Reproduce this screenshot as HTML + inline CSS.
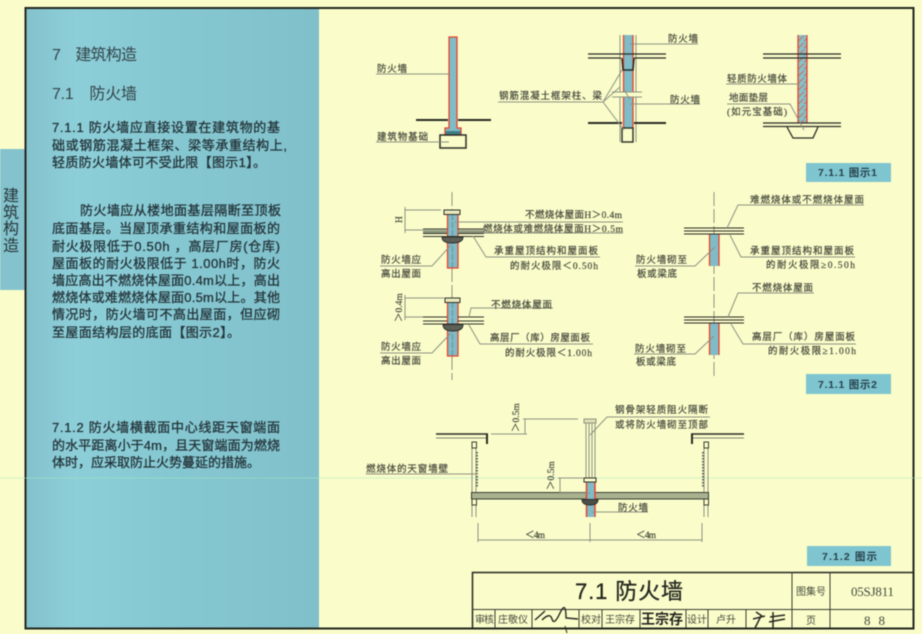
<!DOCTYPE html>
<html><head><meta charset="utf-8"><style>
html,body{margin:0;padding:0;background:#fafdca;width:922px;height:634px;overflow:hidden}
svg{display:block;font-family:"Liberation Sans","Noto Sans CJK SC",sans-serif;filter:blur(.45px)}
.b{font-size:13px;fill:#24343a;stroke:#24343a;stroke-width:.3}
.h{font-size:16px;fill:#33444a}
.l{font-size:9.5px;fill:#47493c;stroke:#47493c;stroke-width:.2;font-family:"Liberation Serif","Noto Sans CJK SC",sans-serif}
.c{font-size:10.5px;fill:#27414a;font-weight:700}
.t{font-size:10px;fill:#454a3c;font-family:"Liberation Serif","Noto Sans CJK SC",sans-serif}
.g{stroke:#8e9180;stroke-width:1;fill:none}
.k{stroke:#2b2b24;fill:none}
.r{fill:#7fbcc7;stroke:#e8432c;stroke-width:1.3}
</style></head><body>
<svg width="922" height="634" viewBox="0 0 922 634" xmlns="http://www.w3.org/2000/svg">
<defs>
<linearGradient id="bl" x1="0" x2="1" y1="0" y2="0">
<stop offset="0" stop-color="#84c2cc"/><stop offset=".17" stop-color="#8dcfd9"/><stop offset=".5" stop-color="#86c8d2"/><stop offset="1" stop-color="#80c0ca"/>
</linearGradient>
<pattern id="ht" width="6" height="7" patternUnits="userSpaceOnUse"><rect width="6" height="7" fill="#86c0c8"/><path d="M-1 7L7 0" stroke="#d9583a" stroke-width=".8"/></pattern>
</defs>
<rect width="922" height="634" fill="#fafdca"/>
<rect x="0" y="149" width="25" height="141" fill="#84c3cd"/>
<rect x="26" y="9" width="293" height="619" fill="url(#bl)"/>
<path d="M25.5 8H913.5V628.5H25.5Z" fill="none" stroke="#23261f" stroke-width="2"/>

<!-- side tab -->
<g font-size="16" fill="#26363a" text-anchor="middle">
<text x="11" y="201">建</text><text x="11" y="218">筑</text><text x="11" y="234">构</text><text x="11" y="251">造</text>
</g>

<!-- left text -->
<text x="52" y="60" class="h" textLength="85">7　建筑构造</text>
<text x="52" y="99" class="h" textLength="85">7.1　防火墙</text>
<text x="52" y="132" class="b" textLength="228">7.1.1 防火墙应直接设置在建筑物的基</text>
<text x="52" y="150" class="b" textLength="235">础或钢筋混凝土框架、梁等承重结构上,</text>
<text x="52" y="167" class="b" textLength="214">轻质防火墙体可不受此限【图示1】。</text>
<text x="80" y="215" class="b" textLength="201">防火墙应从楼地面基层隔断至顶板</text>
<text x="52" y="233" class="b" textLength="228">底面基层。当屋顶承重结构和屋面板的</text>
<text x="52" y="251" class="b" textLength="228">耐火极限低于0.50h ，高层厂房(仓库)</text>
<text x="52" y="268" class="b" textLength="228">屋面板的耐火极限低于 1.00h时，防火</text>
<text x="52" y="285" class="b" textLength="228">墙应高出不燃烧体屋面0.4m以上，高出</text>
<text x="52" y="302" class="b" textLength="228">燃烧体或难燃烧体屋面0.5m以上。其他</text>
<text x="52" y="319" class="b" textLength="228">情况时，防火墙可不高出屋面，但应砌</text>
<text x="52" y="337" class="b" textLength="188">至屋面结构层的底面【图示2】。</text>
<text x="52" y="432" class="b" textLength="228">7.1.2 防火墙横截面中心线距天窗端面</text>
<text x="52" y="450" class="b" textLength="228">的水平距离小于4m，且天窗端面为燃烧</text>
<text x="52" y="467" class="b" textLength="208">体时，应采取防止火势蔓延的措施。</text>

<!-- diagram 1 -->
<path class="r" d="M449 37H457V128H461V135H445V128H449Z"/>
<rect x="445.6" y="131" width="15" height="4" fill="#3f7f84"/>
<path class="k" stroke-width="2" d="M416 120H448M458 120H491"/>
<rect class="k" stroke-width="1.5" x="440" y="135" width="26" height="13" fill="#fafdca"/>
<path class="g" d="M376 74H449M376 142H449"/>
<text class="l" x="377" y="72" textLength="30">防火墙</text>
<text class="l" x="377" y="140" textLength="51">建筑物基础</text>

<!-- diagram 2 -->
<path class="g" d="M620 35V142M636 35V142" stroke="#a5a890"/>
<rect x="624" y="35" width="9" height="93" fill="#7fbcc7"/>
<path d="M623.5 35V128M633 35V128" stroke="#e8432c" stroke-width="1.3"/>
<rect x="614" y="92" width="28" height="5" fill="#fafdca"/>
<path class="g" d="M612 92H642M612 97H642M624 90L630 99"/>
<path class="k" stroke-width="1.2" d="M588 54H666M588 58H621M634 58H666"/>
<path class="k" stroke-width="1.6" fill="#fafdca" d="M622 58L623 70H633L634 58"/>
<path class="k" stroke-width="2" d="M588 123H622M634 123H666"/>
<rect class="k" stroke-width="1.4" x="622" y="128" width="11" height="14" fill="#fafdca"/>
<path class="g" d="M498 102H603L622 70M603 102L620 87M603 102L624 130"/>
<path class="g" d="M630 44H698M630 104H700"/>
<text class="l" x="499" y="99" textLength="103">钢筋混凝土框架柱、梁</text>
<text class="l" x="668" y="42" textLength="30">防火墙</text>
<text class="l" x="670" y="103" textLength="30">防火墙</text>

<!-- diagram 3 -->
<rect x="798" y="35" width="9" height="88" fill="url(#ht)"/>
<path d="M798 35V123M807 35V123" stroke="#e8432c" stroke-width="1.3"/>
<path class="k" stroke-width="1.2" d="M763 54H841M763 58H841M763 123H841M763 126.500H841"/>
<path class="k" stroke-width="1.3" d="M787 127L793 138H813L818 127"/>
<path class="g" d="M726 84H800M727 104H790L804 130"/>
<text class="l" x="727" y="82" textLength="60">轻质防火墙体</text>
<text class="l" x="729" y="101" textLength="39">地面垫层</text>
<text class="l" x="727" y="115" textLength="60">(如元宝基础)</text>
<rect x="806" y="163" width="85" height="19" fill="#7ec5d0"/>
<text class="c" x="818" y="176" textLength="59">7.1.1 图示1</text>

<!-- diagram 4 -->
<path class="g" d="M452 192V210M452 268V298M452 356V380" stroke-dasharray="14 3"/>
<path class="r" d="M447.500 214H458V268H447.500Z"/>
<path d="M452.500 214V268" stroke="#5f7f80" stroke-width=".7" stroke-dasharray="6 2"/>
<rect x="444" y="210" width="16" height="4.500" fill="#e8e9bb" stroke="#2f302a"/>
<path d="M423 229H447M458 229H484" stroke="#2f302a"/><rect x="423" y="230" width="24" height="3" fill="#8f9a80"/><rect x="458" y="230" width="26" height="3" fill="#8f9a80"/>
<path d="M423 233.500H447M458 233.500H484M423 236.500H484" stroke="#2f302a"/>
<path d="M442 237H463Q463 243 452 243Q442 243 442 237Z" fill="#5c6056" stroke="#2f302a"/>
<path class="g" d="M405 210H441M405 230H423M405 207V233"/>
<text class="l" transform="translate(402,223) rotate(-90)">H</text>
<path class="g" d="M455 222H623M483 233H623M600 257H486L473 236M432 266H380M432 266L451 245"/>
<text class="l" x="525" y="218" textLength="97">不燃烧体屋面H＞0.4m</text>
<text class="l" x="483" y="232" textLength="140">燃烧体或难燃烧体屋面H＞0.5m</text>
<text class="l" x="494" y="254" textLength="104">承重屋顶结构和屋面板</text>
<text class="l" x="510" y="269" textLength="88">的耐火极限＜0.50h</text>
<text class="l" x="381" y="263" textLength="40">防火墙应</text>
<text class="l" x="381" y="277" textLength="40">高出屋面</text>

<path class="r" d="M447.500 302H458V356H447.500Z"/>
<path d="M452.500 302V356" stroke="#5f7f80" stroke-width=".7" stroke-dasharray="6 2"/>
<rect x="445" y="298" width="15" height="4.500" fill="#e8e9bb" stroke="#2f302a"/>
<path d="M423 317H447M458 317H484M423 321H447M458 321H484M423 324H484" stroke="#2f302a"/>
<path d="M443 324.500H463Q463 331 453 331Q443 331 443 324.500Z" fill="#5c6056" stroke="#2f302a"/>
<path class="g" d="M405 298H444M405 317H423M405 295V320"/>
<text class="l" transform="translate(402,322) rotate(-90)">＞0.4m</text>
<path class="g" d="M469 317L471 308H553M480 344H593M480 344L469 325M380 353H432L451 333"/>
<text class="l" x="491" y="308" textLength="61">不燃烧体屋面</text>
<text class="l" x="490" y="341" textLength="100">高层厂（库）房屋面板</text>
<text class="l" x="505" y="356" textLength="87">的耐火极限＜1.00h</text>
<text class="l" x="381" y="350" textLength="40">防火墙应</text>
<text class="l" x="381" y="364" textLength="40">高出屋面</text>

<!-- diagram 5 -->
<path class="g" d="M714 192V378" stroke-dasharray="14 3"/>
<rect x="709.500" y="234" width="9.500" height="32" fill="#7fbcc7"/>
<path d="M709.500 234V266M719 234V266" stroke="#e8432c" stroke-width="1.3"/>
<path class="k" stroke-width="1.1" d="M684 228H744M684 231H744M684 234H744"/>
<path class="g" d="M864 205H738L727 228M855 257H741L730 235M635 266H695L715 247"/>
<text class="l" x="750" y="203" textLength="114">难燃烧体或不燃烧体屋面</text>
<text class="l" x="750" y="254" textLength="104">承重屋顶结构和屋面板</text>
<text class="l" x="766" y="268" textLength="89">的耐火极限≥0.50h</text>
<text class="l" x="636" y="263" textLength="51">防火墙砌至</text>
<text class="l" x="637" y="277" textLength="40">板或梁底</text>

<rect x="709.500" y="323" width="9.500" height="32" fill="#7fbcc7"/>
<path d="M709.500 323V355M719 323V355" stroke="#e8432c" stroke-width="1.3"/>
<path class="k" stroke-width="1.1" d="M684 317H744M684 320H744M684 323H744"/>
<path class="g" d="M814 293H738L728 317M856 344H743L731 324M634 354H695L714 336"/>
<text class="l" x="752" y="291" textLength="61">不燃烧体屋面</text>
<text class="l" x="752" y="340" textLength="103">高层厂（库）房屋面板</text>
<text class="l" x="768" y="354" textLength="88">的耐火极限≥1.00h</text>
<text class="l" x="635" y="352" textLength="51">防火墙砌至</text>
<text class="l" x="636" y="365" textLength="40">板或梁底</text>
<rect x="806" y="374" width="85" height="20" fill="#7ec5d0"/>
<text class="c" x="818" y="388" textLength="59">7.1.1 图示2</text>

<!-- diagram 6 -->
<path d="M0 478H922" stroke="#a6e6c0" stroke-width=".7" opacity=".7"/>
<path d="M436 434H488M691 434H744" stroke="#2b2b24" stroke-width="1.6"/>
<path d="M436 438H486M693 438H744" stroke="#7e8370"/>
<path d="M487 434V444M692 434V444" stroke="#2b2b24" stroke-width="2"/>
<path class="g" d="M472 448V492M476 448V492M704 448V492M708 448V492M472 505V517M476 505V517M704 505V517M708 505V517"/>
<path d="M477 452V488M703 452V488" stroke="#5d6355" stroke-width="2" stroke-dasharray="1.500 1.500"/>
<rect x="472" y="442" width="4.500" height="6" fill="#fafdca" stroke="#3a3c32"/>
<rect x="704" y="442" width="4.500" height="6" fill="#fafdca" stroke="#3a3c32"/>
<rect x="471.500" y="492.500" width="237" height="6.500" fill="#a8b28f" stroke="#3a3c32"/>
<rect x="472" y="499" width="4.500" height="6" fill="#fafdca" stroke="#3a3c32"/>
<rect x="704" y="499" width="4.500" height="6" fill="#fafdca" stroke="#3a3c32"/>
<path class="g" d="M586 423V478M595 423V478M589 423V478M592 423V478"/>
<rect x="584" y="419" width="12" height="4" fill="#dfe2b4" stroke="#8e9180"/>
<rect x="586.500" y="482" width="8" height="35" fill="#7fbcc7"/>
<path d="M586.500 482V517M595 482V517" stroke="#e8432c" stroke-width="1.500"/>
<rect x="584" y="478" width="12" height="4" fill="#fafdca" stroke="#2f302a"/>
<path d="M582 499.500H598Q598 505 590 505Q582 505 582 499.500Z" fill="#4c5048" stroke="#2f302a"/>
<path class="g" d="M523 419H578M491 434H527M525 419V434M558 478H583M560 493H590M560 478V494"/>
<text class="l" transform="translate(519,432) rotate(-90)">＞0.5m</text>
<text class="l" transform="translate(554,490) rotate(-90)">＞0.5m</text>
<path class="g" d="M366 474H478M710 417H607L590 435M592 512H648"/>
<text class="l" x="366" y="472" textLength="82">燃烧体的天窗墙壁</text>
<text class="l" x="615" y="413" textLength="93">钢骨架轻质阻火隔断</text>
<text class="l" x="615" y="428" textLength="93">或将防火墙砌至顶部</text>
<text class="l" x="618" y="511" textLength="30">防火墙</text>
<path class="g" stroke="#5f6353" d="M478 540H702M478 523V542M590 523V542M702 523V542"/>
<text class="l" x="525" y="538" textLength="20">＜4m</text>
<text class="l" x="636" y="538" textLength="20">＜4m</text>
<rect x="807" y="546" width="84" height="20" fill="#7ec5d0"/>
<text class="c" x="822" y="560" textLength="55">7.1.2 图示</text>

<!-- title block -->
<path d="M472.500 628V572.500H913" fill="none" stroke="#23261f" stroke-width="1.500"/>
<path d="M472 609.500H913M792 572V628M830 572V628M495 609V628M532 609V628M579 609V628M602 609V628M640 609V628M686 609V628M708 609V628M746 609V628" stroke="#3a3c32" stroke-width="1"/>
<text x="575" y="599" font-size="22" fill="#24261f" stroke="#24261f" stroke-width=".3" textLength="108">7.1 防火墙</text>
<text class="t" x="796" y="595" textLength="30">图集号</text>
<text class="t" x="851" y="596" style="font-size:13px" textLength="43">05SJ811</text>
<text class="t" x="475" y="623" textLength="19">审核</text>
<text class="t" x="498" y="623" textLength="30">庄敬仪</text>
<path d="M535 620L545 611M542 620Q550 612 552 619T560 613T566 618L578 619" fill="none" stroke="#26261f" stroke-width="1.400"/>
<path d="M565 626L567 633" fill="none" stroke="#26261f" stroke-width="1"/>
<text class="t" x="581" y="623" textLength="20">校对</text>
<text class="t" x="605" y="623" textLength="30">王宗存</text>
<text x="641" y="624" font-size="14" font-weight="700" fill="#24251f" textLength="42">王宗存</text>
<text class="t" x="687" y="623" textLength="20">设计</text>
<text class="t" x="716" y="623" textLength="20">卢升</text>
<path d="M756 612L762 616M753 619L765 616M761 616L755 628M773 612V628M770 617L785 615M769 622L785 619" fill="none" stroke="#26261f" stroke-width="1.500"/>
<text class="t" x="806" y="624">页</text>
<text class="t" x="864" y="625" style="font-size:13px" textLength="21">88</text>
</svg>
</body></html>
